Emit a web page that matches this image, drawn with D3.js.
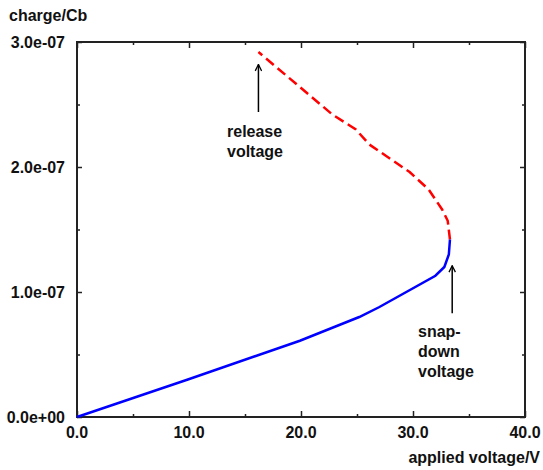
<!DOCTYPE html>
<html>
<head>
<meta charset="utf-8">
<script src="https://cdn.jsdelivr.net/npm/d3@7"></script>
<style>
  body { margin: 0; background: #ffffff; }
  svg text { font-family: "Liberation Sans", Arial, sans-serif; font-weight: bold; font-size: 16px; fill: #111; }
</style>
</head>
<body>
<svg id="chart" width="543" height="470"></svg>
<script>
// Stable branch (voltage up to snap-down), V / Cb
var upVoltage = [0, 9.9, 19.9, 25.2, 27.0, 32.0, 32.8, 33.2, 33.3];
var upCharge  = [0, 0.30e-7, 0.61e-7, 0.80e-7, 0.88e-7, 1.13e-7, 1.20e-7, 1.30e-7, 1.42e-7];

// Unstable branch (snap-down back to release)
var downVoltage = [33.3, 33.1, 32.6, 31.4, 29.7, 26.1, 24.9, 22.8, 16.2];
var downCharge  = [1.42e-7, 1.57e-7, 1.66e-7, 1.82e-7, 1.96e-7, 2.18e-7, 2.30e-7, 2.42e-7, 2.92e-7];

var xTicks = [0, 10, 20, 30, 40];
var xMinor = [5, 15, 25, 35];
var yTicks = [0, 1e-7, 2e-7, 3e-7];
var yMinor = [0.5e-7, 1.5e-7, 2.5e-7];
var yTickLabels = ["0.0e+00", "1.0e-07", "2.0e-07", "3.0e-07"];

// annotations: [voltage, charge at arrow tip, charge at arrow tail]
var releaseArrow = [16.2, 2.82e-7, 2.44e-7];
var snapArrow = [33.5, 1.21e-7, 0.83e-7];

var svg = d3.select('#chart');

var x = d3.scaleLinear().domain([0, 40]).range([77, 525]);
var y = d3.scaleLinear().domain([0, 3e-7]).range([417, 42]);

// arrow head
svg.append('defs').append('marker')
  .attr('id', 'head')
  .attr('viewBox', '0 0 10 10')
  .attr('refX', 9).attr('refY', 5)
  .attr('markerWidth', 8).attr('markerHeight', 8)
  .attr('markerUnits', 'userSpaceOnUse')
  .attr('orient', 'auto')
  .append('path')
  .attr('d', 'M1,1 L9,5 L1,9')
  .attr('fill', 'none')
  .attr('stroke', '#000')
  .attr('stroke-width', 1.6);

// axes - ticks pointing inwards, labels drawn separately
function tickAxis(axis, vals, size) {
  return axis.tickValues(vals).tickSizeInner(-size).tickSizeOuter(0).tickFormat('');
}

var g = svg.append('g');
g.append('g').attr('transform', 'translate(0,417)').call(tickAxis(d3.axisBottom(x), xTicks, 6));
g.append('g').attr('transform', 'translate(0,417)').call(tickAxis(d3.axisBottom(x), xMinor, 3));
g.append('g').attr('transform', 'translate(0,42)').call(tickAxis(d3.axisTop(x), xTicks, 6));
g.append('g').attr('transform', 'translate(0,42)').call(tickAxis(d3.axisTop(x), xMinor, 3));
g.append('g').attr('transform', 'translate(77,0)').call(tickAxis(d3.axisLeft(y), yTicks, 5));
g.append('g').attr('transform', 'translate(77,0)').call(tickAxis(d3.axisLeft(y), yMinor, 3));
g.append('g').attr('transform', 'translate(525,0)').call(tickAxis(d3.axisRight(y), yTicks, 5));
g.append('g').attr('transform', 'translate(525,0)').call(tickAxis(d3.axisRight(y), yMinor, 3));
g.selectAll('.domain').remove();
g.selectAll('.tick line').attr('stroke', '#222').attr('stroke-width', 1.5);

// frame
svg.append('rect')
  .attr('x', x(0)).attr('y', y(3e-7))
  .attr('width', x(40) - x(0)).attr('height', y(0) - y(3e-7))
  .attr('fill', 'none').attr('stroke', '#222').attr('stroke-width', 2);

// tick labels
svg.selectAll('.xlab').data(xTicks).enter().append('text')
  .attr('x', function(d) { return x(d); })
  .attr('y', 438)
  .attr('text-anchor', 'middle')
  .text(function(d) { return d.toFixed(1); });

svg.selectAll('.ylab').data(yTicks).enter().append('text')
  .attr('x', 65)
  .attr('y', function(d) { return y(d) + 6; })
  .attr('text-anchor', 'end')
  .text(function(d, i) { return yTickLabels[i]; });

// axis titles
svg.append('text').attr('x', 9).attr('y', 21).text('charge/Cb');
svg.append('text').attr('x', 540).attr('y', 463).attr('text-anchor', 'end').text('applied voltage/V');

// curves
var line = d3.line()
  .x(function(d) { return x(d[0]); })
  .y(function(d) { return y(d[1]); });

svg.append('path')
  .datum(d3.zip(downVoltage, downCharge))
  .attr('d', line)
  .attr('fill', 'none')
  .attr('stroke', '#ff0000')
  .attr('stroke-width', 2.5)
  .attr('stroke-dasharray', '10,5');

svg.append('path')
  .datum(d3.zip(upVoltage, upCharge))
  .attr('d', line)
  .attr('fill', 'none')
  .attr('stroke', '#0000ff')
  .attr('stroke-width', 2.5);

// annotations
[releaseArrow, snapArrow].forEach(function(a) {
  svg.append('line')
    .attr('x1', x(a[0])).attr('y1', y(a[2]))
    .attr('x2', x(a[0])).attr('y2', y(a[1]))
    .attr('stroke', '#000').attr('stroke-width', 1.5)
    .attr('marker-end', 'url(#head)');
});

svg.append('text').attr('x', 227).attr('y', 137).text('release');
svg.append('text').attr('x', 227).attr('y', 157).text('voltage');

svg.append('text').attr('x', 418).attr('y', 337).text('snap-');
svg.append('text').attr('x', 418).attr('y', 357).text('down');
svg.append('text').attr('x', 418).attr('y', 377).text('voltage');
</script>
</body>
</html>
